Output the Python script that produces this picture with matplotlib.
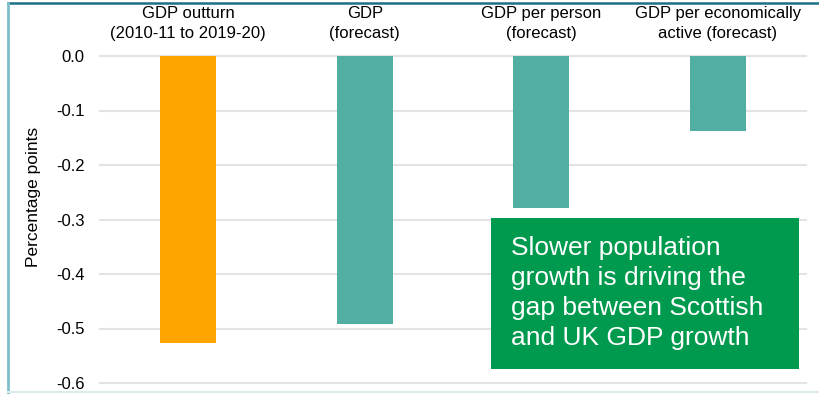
import matplotlib
matplotlib.use("Agg")
import matplotlib.pyplot as plt
from matplotlib.patches import Rectangle
from matplotlib.lines import Line2D
import matplotlib.transforms as mtransforms

plt.rcParams['font.family'] = ['Liberation Sans', 'DejaVu Sans']

categories = ["GDP outturn\n(2010-11 to 2019-20)", "GDP\n(forecast)",
              "GDP per person\n(forecast)", "GDP per economically\nactive (forecast)"]
values = [-0.526, -0.492, -0.278, -0.137]
colors = ["#FFA500", "#52AEA3", "#52AEA3", "#52AEA3"]
yticks = [0.0, -0.1, -0.2, -0.3, -0.4, -0.5, -0.6]
ytick_labels = ["0.0", "-0.1", "-0.2", "-0.3", "-0.4", "-0.5", "-0.6"]
note = "Slower population\ngrowth is driving the\ngap between Scottish\nand UK GDP growth"

W, H = 819, 394
fig = plt.figure(figsize=(W / 100, H / 100), dpi=100)

ax = fig.add_axes([100 / W, 11 / H, 706 / W, 327 / H])
x = list(range(len(categories)))
ax.bar(x, values, width=0.315, color=colors, zorder=3)
ax.set_xlim(-0.5, len(categories) - 0.5)
ax.set_ylim(-0.6, 0.0)
ax.set_yticks(yticks)
ax.set_yticklabels(ytick_labels, fontsize=12)
ax.set_xticks([])
for y in yticks:
    ax.axhline(y, color="#e3e3e3", lw=1.5, zorder=1, clip_on=False)
for s in ax.spines.values():
    s.set_visible(False)
ax.tick_params(axis='y', length=0, pad=11, colors="#000000")
fig.text(34 / W, 1 - 197 / H, "Percentage points", rotation=90,
         fontsize=12.5, ha='center', va='center')

trans = mtransforms.blended_transform_factory(ax.transData, fig.transFigure)
for xi, lab in zip(x, categories):
    ax.text(xi, 1 - 23.5 / H, lab, transform=trans, ha='center', va='center',
            fontsize=12, linespacing=1.4)

# Note box
fig.patches.append(Rectangle((491 / W, 1 - 369 / H), 308 / W, 151 / H,
                             transform=fig.transFigure, facecolor="#009A4E",
                             edgecolor="none", zorder=5))
fig.text(511 / W, 1 - 293 / H, note, color="white", fontsize=19,
         ha='left', va='center', linespacing=1.33, zorder=6)

# Frame lines
fig.add_artist(Line2D([7.5 / W, 1], [1 - 2.5 / H, 1 - 2.5 / H], color="#1F6E88", lw=1.8))
fig.add_artist(Line2D([7.5 / W, 7.5 / W], [0, 1 - 2.5 / H], color="#7FBFCB", lw=2))
fig.add_artist(Line2D([7.5 / W, 1], [1 - 392 / H, 1 - 392 / H], color="#DCEAEE", lw=1.5))

fig.savefig("out.png", dpi=100)
